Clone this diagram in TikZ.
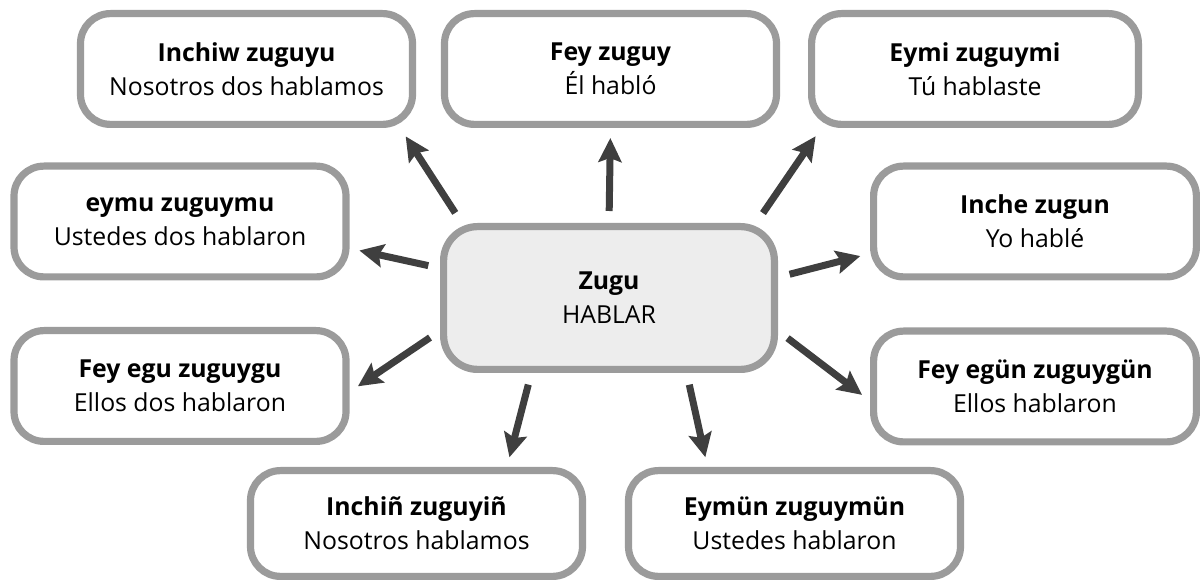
\documentclass[tikz,border=0pt]{standalone}
\usepackage{fontspec}
\setmainfont{Open Sans}
\usetikzlibrary{arrows.meta}

\definecolor{boxgray}{HTML}{9B9B9B}
\definecolor{hubfill}{HTML}{EDEDED}
\definecolor{arrowgray}{HTML}{3F3F3F}

\tikzset{
  leaf/.style={draw=boxgray, line width=3.6pt, rounded corners=15pt, fill=white,
    minimum width=166pt, minimum height=55.4pt, inner sep=0pt, align=center,
    font=\fontsize{12.4}{17}\selectfont},
  hub/.style={leaf, fill=hubfill, minimum width=165.4pt, minimum height=71.4pt,
    rounded corners=17pt},
  conj/.style={-{Stealth[length=12pt,width=11.5pt,inset=2pt]}, draw=arrowgray,
    fill=arrowgray, line width=3.5pt, shorten <=6pt, shorten >=5pt}
}

\begin{document}
\begin{tikzpicture}[x=0.5pt, y=-0.5pt]
        % ==== CANVAS ====
        \useasboundingbox (0,0) rectangle (1200,582);

        % ==== CENTRE ====
        \node[hub] (zugu) at (609,298) {\textbf{Zugu}\\HABLAR};

        % ==== TOP ROW ====
        \node[leaf] (inchiw) at (246.5,69) {\textbf{Inchiw zuguyu}\\Nosotros dos hablamos};
        \node[leaf] (fey) at (610.5,69) {\textbf{Fey zuguy}\\Él habló};
        \node[leaf, minimum width=163.4pt] (eymi) at (975,69) {\textbf{Eymi zuguymi}\\Tú hablaste};

        % ==== LEFT SIDE ====
        \node[leaf] (eymu) at (180,221.5) {\textbf{eymu zuguymu}\\Ustedes dos hablaron};
        \node[leaf] (feyegu) at (180,386) {\textbf{Fey egu zuguygu}\\Ellos dos hablaron};

        % ==== RIGHT SIDE ====
        \node[leaf, minimum width=161.4pt] (inche) at (1035,221.5) {\textbf{Inche zugun}\\Yo hablé};
        \node[leaf, minimum width=161.4pt] (feyegun) at (1035,386.5) {\textbf{Fey egün zuguygün}\\Ellos hablaron};

        % ==== BOTTOM ROW ====
        \node[leaf, minimum height=52.9pt] (inchin) at (416.5,523.5) {\textbf{Inchiñ zuguyiñ}\\Nosotros hablamos};
        \node[leaf, minimum height=52.9pt] (eymun) at (794.5,523.5) {\textbf{Eymün zuguymün}\\Ustedes hablaron};

        % ==== ARROWS ====
        \foreach \a/\t/\b in {153/inchiw/-21.4, 90/fey/-90, 27.3/eymi/-159.5,
                              170.4/eymu/-9, 7.8/inche/-169.9,
                              191.1/feyegu/-2.8, -11.2/feyegun/-175.8,
                              -136.3/inchin/32.1, -44.3/eymun/147.1}
            \draw[conj] (zugu.\a) -- (\t.\b);
\end{tikzpicture}
\end{document}
